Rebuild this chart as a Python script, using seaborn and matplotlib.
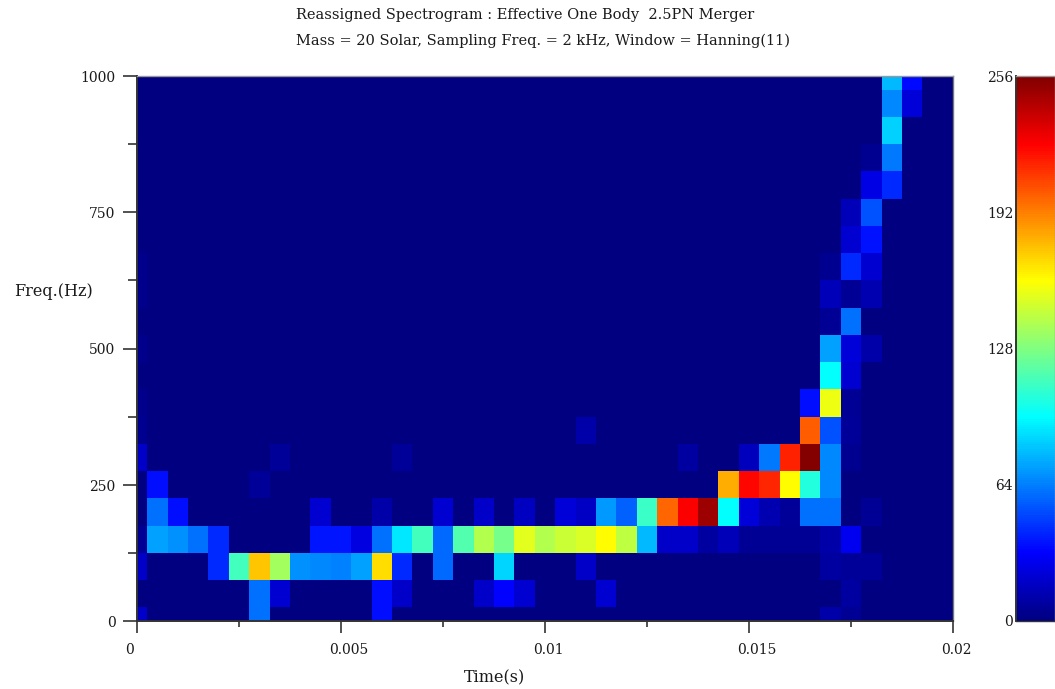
import numpy as np
import pandas as pd
import seaborn as sns
import matplotlib.pyplot as plt
from matplotlib.colors import LinearSegmentedColormap
from matplotlib.transforms import ScaledTranslation

sns.set_theme(style="white")
plt.rcParams['font.family'] = ['DejaVu Serif', 'Liberation Serif']

# time axis 0 .. 0.02 s, freq axis 0 .. 1000 Hz
times = [round(i * 0.0005, 4) for i in range(41)]
freqs = [i * 50 for i in range(21)]

hz_0    = [18,0,0,0,0,0,60,0,0,0,  0,0,35,0,0,0,0,0,0,0,  0,0,0,0,0,0,0,0,0,0,  0,0,0,0,10,5,0,0,0,0,  0]
hz_50   = [0,0,0,0,0,0,60,20,0,0,  0,0,35,18,0,0,0,18,32,20,  0,0,0,20,0,0,0,0,0,0,  0,0,0,0,0,8,0,0,0,0,  0]
hz_100  = [18,0,0,0,42,112,174,136,68,66,  64,72,168,42,0,58,0,0,85,0,  0,0,18,0,0,0,0,0,0,0,  0,0,0,0,8,6,6,0,0,0,  0]
hz_150  = [5,72,68,60,42,0,0,0,0,37,  37,24,60,90,112,58,116,140,125,152,  140,146,150,160,143,78,18,18,8,14,  5,5,5,5,10,28,0,0,0,0,  0]
hz_200  = [0,60,35,0,0,0,0,0,0,20,  0,0,10,0,0,20,0,18,0,16,  0,22,17,70,56,110,198,224,248,96,  22,12,6,60,60,0,5,0,0,0,  0]
hz_250  = [0,35,0,0,0,0,6,0,0,0,  0,0,0,0,0,0,0,0,0,0,  0,0,0,0,0,0,0,0,0,180,  222,214,160,104,66,0,0,0,0,0,  0]
hz_300  = [18,0,0,0,0,0,0,6,0,0,  0,0,0,6,0,0,0,0,0,0,  0,0,0,0,0,0,0,8,0,0,  15,62,215,254,66,4,0,0,0,0,  0]
hz_350  = [4,0,0,0,0,0,0,0,0,0,  0,0,0,0,0,0,0,0,0,0,  0,0,10,0,0,0,0,0,0,0,  0,0,0,200,52,6,0,0,0,0,  0]
hz_400  = [3,0,0,0,0,0,0,0,0,0,  0,0,0,0,0,0,0,0,0,0,  0,0,0,0,0,0,0,0,0,0,  0,0,0,35,155,5,0,0,0,0,  0]
hz_450  = [0,0,0,0,0,0,0,0,0,0,  0,0,0,0,0,0,0,0,0,0,  0,0,0,0,0,0,0,0,0,0,  0,0,0,0,96,20,0,0,0,0,  0]
hz_500  = [3,0,0,0,0,0,0,0,0,0,  0,0,0,0,0,0,0,0,0,0,  0,0,0,0,0,0,0,0,0,0,  0,0,0,0,72,22,10,0,0,0,  0]
hz_550  = [0,0,0,0,0,0,0,0,0,0,  0,0,0,0,0,0,0,0,0,0,  0,0,0,0,0,0,0,0,0,0,  0,0,0,0,5,60,0,0,0,0,  0]
hz_600  = [3,0,0,0,0,0,0,0,0,0,  0,0,0,0,0,0,0,0,0,0,  0,0,0,0,0,0,0,0,0,0,  0,0,0,0,14,5,12,0,0,0,  0]
hz_650  = [3,0,0,0,0,0,0,0,0,0,  0,0,0,0,0,0,0,0,0,0,  0,0,0,0,0,0,0,0,0,0,  0,0,0,0,4,42,20,0,0,0,  0]
hz_700  = [0,0,0,0,0,0,0,0,0,0,  0,0,0,0,0,0,0,0,0,0,  0,0,0,0,0,0,0,0,0,0,  0,0,0,0,0,20,36,0,0,0,  0]
hz_750  = [0,0,0,0,0,0,0,0,0,0,  0,0,0,0,0,0,0,0,0,0,  0,0,0,0,0,0,0,0,0,0,  0,0,0,0,0,14,52,0,0,0,  0]
hz_800  = [0,0,0,0,0,0,0,0,0,0,  0,0,0,0,0,0,0,0,0,0,  0,0,0,0,0,0,0,0,0,0,  0,0,0,0,0,0,25,42,0,0,  0]
hz_850  = [0,0,0,0,0,0,0,0,0,0,  0,0,0,0,0,0,0,0,0,0,  0,0,0,0,0,0,0,0,0,0,  0,0,0,0,0,0,4,62,0,0,  0]
hz_900  = [0,0,0,0,0,0,0,0,0,0,  0,0,0,0,0,0,0,0,0,0,  0,0,0,0,0,0,0,0,0,0,  0,0,0,0,0,0,0,84,0,0,  0]
hz_950  = [0,0,0,0,0,0,0,0,0,0,  0,0,0,0,0,0,0,0,0,0,  0,0,0,0,0,0,0,0,0,0,  0,0,0,0,0,0,0,66,22,0,  0]
hz_1000 = [0,0,0,0,0,0,0,0,0,0,  0,0,0,0,0,0,0,0,0,0,  0,0,0,0,0,0,0,0,0,0,  0,0,0,0,0,0,0,78,34,0,  0]

rows = [hz_0, hz_50, hz_100, hz_150, hz_200, hz_250, hz_300, hz_350, hz_400, hz_450, hz_500,
        hz_550, hz_600, hz_650, hz_700, hz_750, hz_800, hz_850, hz_900, hz_950, hz_1000]
power = pd.DataFrame(rows, index=freqs, columns=times)

x_major = [0, 0.005, 0.01, 0.015, 0.02]
x_labels = ['0', '0.005', '0.01', '0.015', '0.02']
x_minor = [0.0025, 0.0075, 0.0125, 0.0175]
y_major = [0, 250, 500, 750, 1000]
y_minor = [125, 375, 625, 875]
cbar_ticks = [0, 64, 128, 192, 256]

# the older jet: yellow at 160 and pure red at 224 on the 0-256 scale
old_jet = LinearSegmentedColormap.from_list('old_jet', [
    (0, '#000080'), (0.125, '#0000ff'), (0.375, '#00ffff'),
    (0.625, '#ffff00'), (0.875, '#ff0000'), (1, '#800000')], N=256)

W, H = 1055, 689
fs = 10
txt = '#1a1a1a'
fig = plt.figure(figsize=(W / 100, H / 100), dpi=100)
ax = fig.add_axes([137 / W, 1 - 621 / H, 816 / W, 545 / H])
cax = fig.add_axes([1016 / W, 1 - 621 / H, 39 / W, 545 / H])

sns.heatmap(power, ax=ax, cbar_ax=cax, cmap=old_jet, vmin=0, vmax=256,
            cbar_kws={'ticks': cbar_ticks})

# heatmap cells sit at i+0.5, so clip half a cell off each edge
ax.set_xlim(0.5, len(times) - 0.5)
ax.set_ylim(0.5, len(freqs) - 0.5)
ax.set_xticks([t / 0.0005 + 0.5 for t in x_major], labels=x_labels, rotation=0, fontsize=fs, color=txt)
ax.set_xticks([t / 0.0005 + 0.5 for t in x_minor], minor=True)
ax.set_yticks([f / 50 + 0.5 for f in y_major], labels=[str(f) for f in y_major], rotation=0, fontsize=fs, color=txt)
ax.set_yticks([f / 50 + 0.5 for f in y_minor], minor=True)
ax.tick_params(axis='x', which='major', length=8.6, width=1.2, color='#333333', bottom=True, pad=7.5)
ax.tick_params(axis='x', which='minor', length=4.5, width=1.2, color='#333333', bottom=True)
ax.tick_params(axis='y', which='major', length=10, width=1.2, color='#333333', left=True, pad=5.5)
ax.tick_params(axis='y', which='minor', length=6.5, width=1.2, color='#333333', left=True)
ax.set_xlabel('')
ax.set_ylabel('')

# x labels start left of their tick, y labels sit a little below theirs
for lab in ax.get_xticklabels():
    lab.set_ha('left')
    lab.set_transform(lab.get_transform() + ScaledTranslation(-12 / 100, 0, fig.dpi_scale_trans))
for lab in ax.get_yticklabels():
    lab.set_transform(lab.get_transform() + ScaledTranslation(0, -2 / 100, fig.dpi_scale_trans))

for side, col, lw in [('left', '#333333', 1.4), ('bottom', '#333333', 1.4), ('top', '#999999', 1), ('right', '#777777', 1)]:
    ax.spines[side].set_visible(True)
    ax.spines[side].set_color(col)
    ax.spines[side].set_linewidth(lw)

cax.yaxis.tick_left()
cax.tick_params(length=0, labelsize=fs, pad=2, labelcolor=txt)
for side, col, lw in [('left', '#333333', 1.4), ('bottom', '#333333', 1), ('top', '#999999', 1), ('right', '#999999', 1)]:
    cax.spines[side].set_visible(True)
    cax.spines[side].set_color(col)
    cax.spines[side].set_linewidth(lw)

fig.text(296 / W, 1 - 15 / H, 'Reassigned Spectrogram : Effective One Body  2.5PN Merger',
         ha='left', va='center', fontsize=10.5, color=txt)
fig.text(296 / W, 1 - 41 / H, 'Mass = 20 Solar, Sampling Freq. = 2 kHz, Window = Hanning(11)',
         ha='left', va='center', fontsize=10.5, color=txt)
fig.text(494 / W, 1 - 678 / H, 'Time(s)', ha='center', va='center', fontsize=11.5, color=txt)
fig.text(14 / W, 1 - 292 / H, 'Freq.(Hz)', ha='left', va='center', fontsize=11.5, color=txt)

fig.savefig('out.png', dpi=100)
